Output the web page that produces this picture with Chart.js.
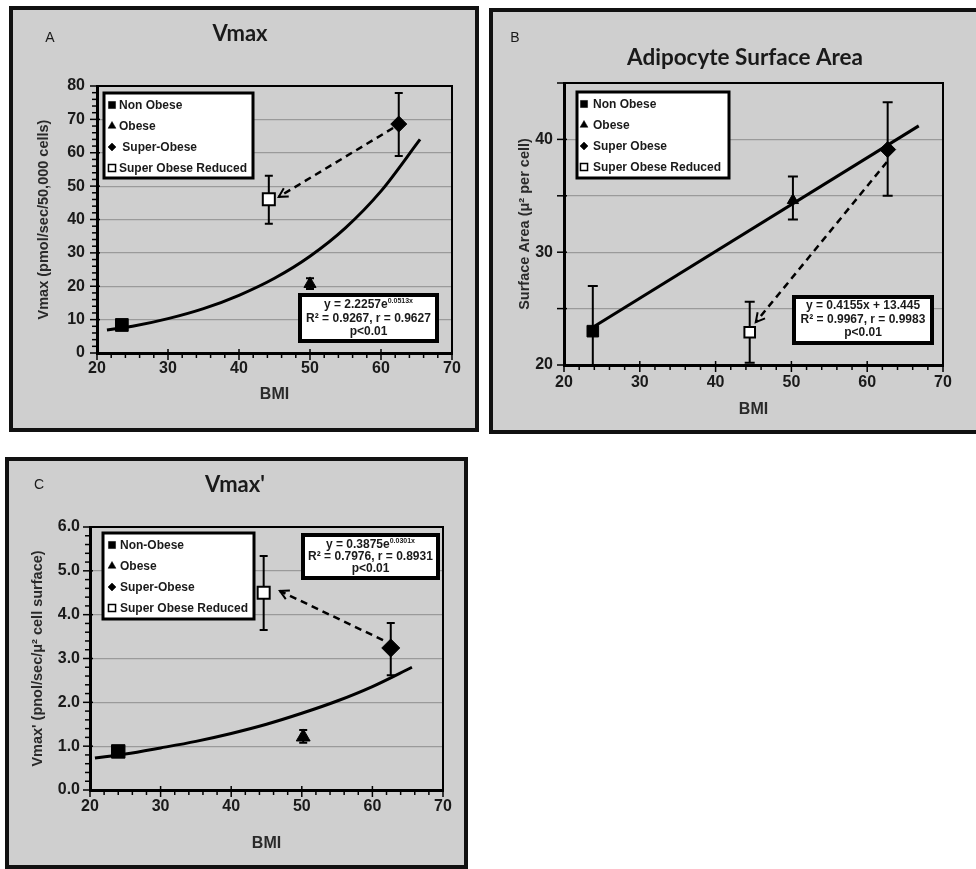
<!DOCTYPE html>
<html>
<head>
<meta charset="utf-8">
<title>Vmax, adipocyte surface area and Vmax' against BMI</title>
<script src="https://cdn.jsdelivr.net/npm/chart.js@4.4.1/dist/chart.umd.min.js"></script>
<style>
    html, body { margin: 0; padding: 0; background: #fff; overflow: hidden; }
    body { width: 976px; height: 869px; position: relative; }
    .panel { position: absolute; box-sizing: border-box; border: 4px solid #111; background: #cfcfcf; }
    .panel canvas { display: block; }
    #panelA { left: 9px; top: 6px; width: 470px; height: 426px; }
    #panelB { left: 489px; top: 8px; width: 491px; height: 426px; }
    #panelC { left: 5px; top: 457px; width: 463px; height: 412px; }
</style>
</head>
<body>
<div class="panel" id="panelA"><canvas id="chartA" width="462" height="418"></canvas></div>
<div class="panel" id="panelB"><canvas id="chartB" width="483" height="418"></canvas></div>
<div class="panel" id="panelC"><canvas id="chartC" width="455" height="404"></canvas></div>

<script>
// Groups, in legend order
const groupsA = ['Non Obese', 'Obese', ' Super-Obese', 'Super Obese Reduced'];
const groupsB = ['Non Obese', 'Obese', 'Super Obese', 'Super Obese Reduced'];
const groupsC = ['Non-Obese', 'Obese', 'Super-Obese', 'Super Obese Reduced'];
const markerStyles = ['rect', 'triangle', 'rectRot', 'rect'];
const markerFills = ['#000', '#000', '#000', '#fff'];

// Panel A - Vmax (pmol/sec/50,000 cells)
const bmiA = [23.5, 50.0, 62.5, 44.2];
const vmaxMean = [8.4, 20.7, 68.6, 46.1];
const vmaxLow = [7.6, 19.2, 59.0, 38.7];
const vmaxHigh = [9.2, 22.4, 77.9, 53.1];
const vmaxFitBmi = [21.4, 25, 30, 35, 40, 45, 50, 55, 60, 65.5];
const vmaxFitY = [6.9, 8.0, 10.3, 13.3, 17.3, 22.4, 29.0, 37.5, 48.5, 64.0];
const vmaxArrowBmi = [61.7, 45.6];
const vmaxArrowY = [67.4, 46.8];
const vmaxEquation = ['y = 2.2257e^0.0513x', 'R\u00b2 = 0.9267, r = 0.9627', 'p<0.01'];

// Panel B - surface area (u2 per cell)
const bmiB = [23.8, 50.2, 62.7, 44.5];
const areaMean = [23.0, 34.6, 39.1, 22.9];
const areaLow = [19.0, 32.9, 35.0, 20.2];
const areaHigh = [27.0, 36.7, 43.3, 25.6];
const areaFitBmi = [23.7, 66.8];
const areaFitY = [23.3, 41.2];
const areaArrowBmi = [62.6, 45.3];
const areaArrowY = [38.0, 23.8];
const areaEquation = ['y = 0.4155x + 13.445', 'R\u00b2 = 0.9967, r = 0.9983', 'p<0.01'];

// Panel C - Vmax' (pnol/sec/u2 cell surface)
const bmiC = [24.0, 50.2, 62.6, 44.6];
const vmaxPMean = [0.88, 1.21, 3.24, 4.50];
const vmaxPLow = [0.82, 1.08, 2.62, 3.65];
const vmaxPHigh = [0.94, 1.37, 3.81, 5.34];
const vmaxPFitBmi = [20.7, 25, 30, 35, 40, 45, 50, 55, 60, 65.6];
const vmaxPFitY = [0.73, 0.82, 0.96, 1.11, 1.29, 1.50, 1.75, 2.03, 2.36, 2.80];
const vmaxPArrowBmi = [61.5, 46.9];
const vmaxPArrowY = [3.42, 4.54];
const vmaxPEquation = ['y = 0.3875e^0.0301x', 'R\u00b2 = 0.7976, r = 0.8931', 'p<0.01'];

const SANS = '"Liberation Sans", Arial, sans-serif';
const TITLE_FONT = 'Lato, "Open Sans", sans-serif';

function toPoints(xs, ys) {
    return xs.map((x, i) => ({ x: x, y: ys[i] }));
}

function drawLegend(ctx, box, labels, radii) {
    ctx.save();
    ctx.fillStyle = '#fff';
    ctx.fillRect(box.x, box.y, box.w, box.h);
    ctx.lineWidth = 3;
    ctx.strokeStyle = '#000';
    ctx.strokeRect(box.x, box.y, box.w, box.h);
    labels.forEach((label, i) => {
        const cy = box.y + 12 + i * 21;
        ctx.fillStyle = markerFills[i];
        ctx.strokeStyle = '#000';
        ctx.lineWidth = i === 3 ? 1.5 : 0.5;
        Chart.helpers.drawPoint(ctx, {
            pointStyle: markerStyles[i], radius: radii[i], rotation: 0, borderWidth: i === 3 ? 1.5 : 0.5
        }, box.x + box.mark, cy);
        ctx.fillStyle = '#1a1a1a';
        ctx.font = 'bold 12px ' + SANS;
        ctx.textAlign = 'left';
        ctx.textBaseline = 'middle';
        ctx.fillText(label, box.x + box.text, cy + 1);
    });
    ctx.restore();
}

function drawEquation(ctx, box, lines) {
    ctx.save();
    ctx.fillStyle = '#fff';
    ctx.fillRect(box.x, box.y, box.w, box.h);
    ctx.lineWidth = 4;
    ctx.strokeStyle = '#000';
    ctx.strokeRect(box.x, box.y, box.w, box.h);
    ctx.fillStyle = '#1a1a1a';
    ctx.textBaseline = 'middle';
    ctx.textAlign = 'left';
    lines.forEach((line, i) => {
        const cy = box.y + box.first + i * box.gap;
        const parts = line.split('^');
        ctx.font = 'bold 12px ' + SANS;
        const w1 = ctx.measureText(parts[0]).width;
        let w2 = 0;
        if (parts[1]) {
            ctx.font = 'bold 7px ' + SANS;
            w2 = ctx.measureText(parts[1]).width;
        }
        const sx = box.x + box.w / 2 - (w1 + w2) / 2;
        ctx.font = 'bold 12px ' + SANS;
        ctx.fillText(parts[0], sx, cy);
        if (parts[1]) {
            ctx.font = 'bold 7px ' + SANS;
            ctx.fillText(parts[1], sx + w1, cy - 4);
        }
    });
    ctx.restore();
}

function drawAxisTicks(ctx, area, xs, ys, cfg) {
    ctx.save();
    ctx.strokeStyle = '#000';
    ctx.lineWidth = 1.5;
    const nx = Math.round((xs.max - xs.min) / cfg.xMinor);
    for (let n = 0; n <= nx; n++) {
        const v = xs.min + n * cfg.xMinor;
        const px = xs.getPixelForValue(v);
        const major = Math.abs(v / 10 - Math.round(v / 10)) < 1e-6;
        ctx.beginPath();
        ctx.moveTo(px, area.bottom + (major ? -4 : 1));
        ctx.lineTo(px, area.bottom + (major ? 7 : 5));
        ctx.stroke();
    }
    const ny = Math.round((ys.max - ys.min) / cfg.yMinor);
    for (let n = 0; n <= ny; n++) {
        const v = ys.min + n * cfg.yMinor;
        const py = ys.getPixelForValue(v);
        const k = v / cfg.yMajor;
        const major = Math.abs(k - Math.round(k)) < 1e-6;
        ctx.beginPath();
        ctx.moveTo(area.left - (major ? 7 : 5), py);
        ctx.lineTo(area.left + (major ? 3 : -1), py);
        ctx.stroke();
    }
    ctx.restore();
}

function makeDecor(cfg) {
    return {
        id: 'decor' + cfg.letter,
        beforeDatasetsDraw(chart) {
            // error bars
            const { ctx, chartArea: a, scales: { x, y } } = chart;
            ctx.save();
            ctx.beginPath();
            ctx.rect(a.left, a.top, a.width, a.height);
            ctx.clip();
            ctx.strokeStyle = '#000';
            ctx.lineWidth = 2;
            cfg.errX.forEach((bx, i) => {
                const px = x.getPixelForValue(bx);
                const lo = y.getPixelForValue(cfg.errLow[i]);
                const hi = y.getPixelForValue(cfg.errHigh[i]);
                ctx.beginPath();
                ctx.moveTo(px, lo); ctx.lineTo(px, hi);
                ctx.moveTo(px - cfg.cap, lo); ctx.lineTo(px + cfg.cap, lo);
                ctx.moveTo(px - cfg.cap, hi); ctx.lineTo(px + cfg.cap, hi);
                ctx.stroke();
            });
            ctx.restore();
        },
        afterDatasetsDraw(chart) {
            // open arrow head at the end of the dashed line
            const ctx = chart.ctx;
            const pts = chart.getDatasetMeta(cfg.arrowIndex).data;
            const p0 = pts[0], p1 = pts[pts.length - 1];
            const ang = Math.atan2(p1.y - p0.y, p1.x - p0.x);
            ctx.save();
            ctx.strokeStyle = '#000';
            ctx.lineWidth = 2;
            ctx.setLineDash([]);
            ctx.beginPath();
            ctx.moveTo(p1.x - 10 * Math.cos(ang - 0.5), p1.y - 10 * Math.sin(ang - 0.5));
            ctx.lineTo(p1.x, p1.y);
            ctx.lineTo(p1.x - 10 * Math.cos(ang + 0.5), p1.y - 10 * Math.sin(ang + 0.5));
            ctx.stroke();
            ctx.restore();
        },
        afterDraw(chart) {
            const { ctx, chartArea: a, scales: { x, y } } = chart;
            ctx.save();
            ctx.strokeStyle = '#000';
            ctx.lineWidth = 2;
            ctx.strokeRect(a.left, a.top, a.width, a.height);
            ctx.restore();
            drawAxisTicks(ctx, a, x, y, cfg);

            ctx.save();
            ctx.fillStyle = '#1a1a1a';
            ctx.textAlign = 'center';
            ctx.textBaseline = 'middle';
            ctx.font = '14px ' + SANS;
            ctx.fillText(cfg.letter, cfg.letterPos[0], cfg.letterPos[1]);
            ctx.font = 'bold ' + cfg.titleSize + 'px ' + TITLE_FONT;
            ctx.fillText(cfg.title, cfg.titlePos[0], cfg.titlePos[1]);
            ctx.restore();

            drawLegend(ctx, cfg.legendBox, cfg.labels, cfg.legendRadii);
            drawEquation(ctx, cfg.eqBox, cfg.equation);
        }
    };
}

function makeChart(id, cfg) {
    const datasets = [{
        label: 'groups',
        data: toPoints(cfg.errX, cfg.mean),
        pointStyle: markerStyles,
        pointRadius: cfg.radii,
        pointHoverRadius: cfg.radii,
        pointBackgroundColor: markerFills,
        pointBorderColor: '#000',
        pointBorderWidth: [1, 1, 1, 2],
        showLine: false
    }, {
        label: 'trend',
        data: toPoints(cfg.fitX, cfg.fitY),
        showLine: true,
        borderColor: '#000',
        borderWidth: 3,
        pointRadius: 0,
        cubicInterpolationMode: 'monotone'
    }, {
        label: 'arrow',
        data: toPoints(cfg.arrowX, cfg.arrowY),
        showLine: true,
        borderColor: '#000',
        borderWidth: 2.5,
        borderDash: [7, 5],
        pointRadius: 0
    }];

    return new Chart(document.getElementById(id), {
        type: 'scatter',
        data: { datasets: datasets },
        options: {
            responsive: false,
            animation: false,
            events: [],
            layout: { padding: cfg.padding },
            plugins: { legend: { display: false }, tooltip: { enabled: false }, title: { display: false } },
            scales: {
                x: {
                    type: 'linear',
                    min: 20, max: 70,
                    ticks: { stepSize: 10, padding: cfg.xTickPad, color: '#1a1a1a', font: { family: SANS, size: 16, weight: 'bold' } },
                    grid: { display: false, drawTicks: false },
                    border: { color: '#000', width: 3 },
                    title: { display: true, text: 'BMI', color: '#2a2a2a', font: { family: SANS, size: 16, weight: 'bold' } },
                    afterFit: (scale) => { scale.height = cfg.xHeight; }
                },
                y: {
                    type: 'linear',
                    min: cfg.yMin, max: cfg.yMax,
                    ticks: {
                        stepSize: cfg.yStep,
                        padding: cfg.yTickPad,
                        color: '#1a1a1a',
                        font: { family: SANS, size: 16, weight: 'bold' },
                        callback: cfg.yLabel
                    },
                    grid: { color: '#9a9a9a', lineWidth: 1.2, drawTicks: false },
                    border: { color: '#000', width: 3 },
                    title: { display: true, text: cfg.yTitle, color: '#2a2a2a', font: { family: SANS, size: 14.5, weight: 'bold' } },
                    afterFit: (scale) => { scale.width = cfg.yWidth; }
                }
            }
        },
        plugins: [makeDecor(cfg)]
    });
}

makeChart('chartA', {
    letter: 'A', letterPos: [37, 28], title: 'Vmax', titleSize: 22, titlePos: [227, 24],
    errX: bmiA, mean: vmaxMean, errLow: vmaxLow, errHigh: vmaxHigh, cap: 4,
    fitX: vmaxFitBmi, fitY: vmaxFitY, arrowX: vmaxArrowBmi, arrowY: vmaxArrowY, arrowIndex: 2,
    radii: [9, 7, 8, 8.5],
    labels: groupsA, legendRadii: [5, 4.5, 4, 5],
    legendBox: { x: 91, y: 83, w: 149, h: 85, mark: 8, text: 15 },
    equation: vmaxEquation, eqBox: { x: 287, y: 285, w: 137, h: 46, first: 10, gap: 13.5 },
    padding: { left: 18, top: 76, right: 23, bottom: 20 }, yWidth: 66, xHeight: 55,
    xTickPad: 6, yTickPad: 12,
    yMin: 0, yMax: 80, yStep: 10, yMinor: 2, yMajor: 10, xMinor: 2,
    yLabel: (v) => v,
    yTitle: 'Vmax (pmol/sec/50,000 cells)'
});

makeChart('chartB', {
    letter: 'B', letterPos: [22, 26], title: 'Adipocyte Surface Area', titleSize: 22.5, titlePos: [252, 46],
    errX: bmiB, mean: areaMean, errLow: areaLow, errHigh: areaHigh, cap: 5,
    fitX: areaFitBmi, fitY: areaFitY, arrowX: areaArrowBmi, arrowY: areaArrowY, arrowIndex: 2,
    radii: [8.2, 6.5, 8, 7.5],
    labels: groupsB, legendRadii: [5, 4.5, 4, 5],
    legendBox: { x: 84, y: 80, w: 152, h: 86, mark: 7, text: 16 },
    equation: areaEquation, eqBox: { x: 301, y: 285, w: 138, h: 46, first: 9, gap: 13.5 },
    padding: { left: 19, top: 71, right: 33, bottom: 7 }, yWidth: 52, xHeight: 58,
    xTickPad: 8, yTickPad: 11,
    yMin: 20, yMax: 45, yStep: 5, yMinor: 5, yMajor: 5, xMinor: 2,
    yLabel: (v) => (v % 10 === 0 ? v : ''),
    yTitle: 'Surface Area (\u03bc\u00b2 per cell)'
});

makeChart('chartC', {
    letter: 'C', letterPos: [30, 24], title: "Vmax'", titleSize: 22, titlePos: [226, 24],
    errX: bmiC, mean: vmaxPMean, errLow: vmaxPLow, errHigh: vmaxPHigh, cap: 4,
    fitX: vmaxPFitBmi, fitY: vmaxPFitY, arrowX: vmaxPArrowBmi, arrowY: vmaxPArrowY, arrowIndex: 2,
    radii: [9.5, 8, 9, 8.5],
    labels: groupsC, legendRadii: [5, 4.5, 4, 5],
    legendBox: { x: 94, y: 72, w: 151, h: 86, mark: 9, text: 17 },
    equation: vmaxPEquation, eqBox: { x: 294, y: 74, w: 135, h: 43, first: 10, gap: 12 },
    padding: { left: 16, top: 66, right: 21, bottom: 8 }, yWidth: 65, xHeight: 67,
    xTickPad: 7, yTickPad: 10,
    yMin: 0, yMax: 6, yStep: 1, yMinor: 0.2, yMajor: 1, xMinor: 2,
    yLabel: (v) => v.toFixed(1),
    yTitle: "Vmax' (pnol/sec/\u03bc\u00b2 cell surface)"
});
</script>
</body>
</html>
